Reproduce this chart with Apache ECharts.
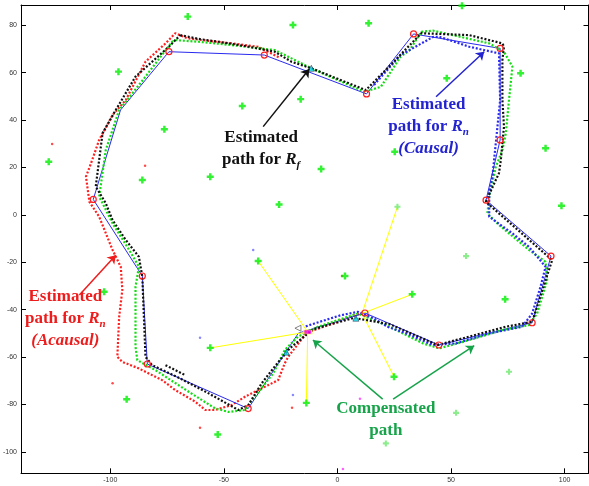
<!DOCTYPE html>
<html>
<head>
<meta charset="utf-8">
<script src="https://cdn.jsdelivr.net/npm/echarts@6/dist/echarts.min.js"></script>
<style>
  html, body { margin: 0; padding: 0; background: #ffffff; }
  #chart { width: 589px; height: 486px; }
</style>
</head>
<body>
<div id="chart"></div>
<script>
// Axis tick values
const xTicks = [-100, -50, 0, 50, 100];
const yTicks = [-100, -80, -60, -40, -20, 0, 20, 40, 60, 80];

// Planned path (solid line) and its waypoints (circles)
const plannedPath = [
  [-32.2, 67.4], [12.8, 51.0], [33.5, 76.3], [71.6, 70.2], [71.6, 31.6], [65.4, 6.2],
  [94.0, -17.4], [85.7, -45.5], [44.6, -54.9], [12.1, -41.4], [-17.2, -49.9],
  [-39.3, -81.7], [-83.7, -62.9], [-85.9, -25.8], [-107.5, 6.5], [-95.5, 44.2],
  [-74.2, 68.8], [-32.2, 67.4]
];
const waypoints = [
  [-32.2, 67.4], [12.8, 51.0], [33.5, 76.3], [71.6, 70.2], [71.6, 31.6], [65.4, 6.2],
  [94.0, -17.4], [85.7, -45.5], [44.6, -54.9], [12.1, -41.4], [-39.3, -81.7],
  [-83.7, -62.9], [-85.9, -25.8], [-107.5, 6.5], [-74.2, 68.8]
];

// Estimated path for R_f
const rfPath = [
  [-69.2, 75.8], [-61.1, 74.2], [-52.4, 73.0], [-40.7, 71.2], [-27.6, 68.8], [-20.3, 64.6],
  [-11.5, 61.8], [12.5, 52.6], [17.6, 57.6], [23.4, 63.2], [36.9, 76.6], [58.0, 75.8],
  [72.6, 72.3], [73.3, 70.9], [72.6, 65.3], [72.6, 48.4], [73.3, 37.2], [71.9, 23.1],
  [71.1, 17.6], [65.3, 5.5], [94.5, -19.1], [85.7, -45.1], [74.1, -47.2], [44.1, -54.9],
  [23.0, -46.1], [7.3, -43.5], [-4.2, -46.5], [-10.8, -48.3], [-21.0, -56.3], [-28.3, -64.8],
  [-33.4, -71.1], [-39.2, -80.2], [-43.6, -82.3], [-56.7, -75.3], [-69.2, -69.0],
  [-81.6, -63.4], [-84.5, -59.9], [-85.5, -35.9], [-85.9, -26.1], [-87.4, -17.7],
  [-93.2, -10.6], [-99.0, -2.2], [-102.0, 4.9], [-106.4, 11.9], [-103.4, 34.4],
  [-97.6, 44.2], [-88.9, 58.3], [-74.2, 70.9], [-69.2, 75.8]
];
const rfBranch = [[-75.7, -63.4], [-67.0, -67.6]];

// Compensated path
const compPath = [
  [-71.4, 73.7], [-61.1, 73.0], [-46.5, 71.6], [-27.6, 69.5], [-11.5, 61.8], [11.8, 51.9],
  [19.1, 54.0], [27.8, 66.7], [31.8, 69.5], [36.9, 77.2], [42.0, 77.7], [66.8, 72.3],
  [73.3, 68.8], [77.0, 62.5], [75.5, 48.4], [74.1, 34.4], [72.6, 27.3], [69.7, 20.3],
  [66.8, 7.6], [66.0, 0.6], [71.1, -4.3], [84.3, -14.8], [91.6, -19.8], [92.3, -27.5],
  [87.9, -41.6], [84.3, -46.5], [72.6, -48.6], [58.0, -52.8], [44.9, -56.3], [37.6, -54.2],
  [28.8, -50.0], [23.0, -47.2], [8.9, -41.6], [-8.6, -47.2], [-17.4, -51.4], [-23.2, -57.0],
  [-28.3, -66.9], [-36.4, -76.7], [-40.7, -82.3], [-48.0, -83.1], [-53.9, -81.6],
  [-65.5, -74.6], [-80.1, -65.5], [-88.1, -61.3], [-88.9, -55.6], [-88.9, -30.3],
  [-87.4, -21.9], [-91.7, -14.8], [-99.0, -3.6], [-103.4, 4.9], [-104.9, 7.6],
  [-102.0, 27.3], [-96.1, 44.2], [-84.5, 58.3], [-72.8, 73.0], [-71.4, 73.7]
];

// Estimated path for R_n, causal
const causalPath = [
  [16.1, 54.8], [27.8, 67.4], [42.0, 75.0], [44.9, 75.1], [58.0, 70.9], [71.1, 68.1],
  [71.6, 48.4], [68.2, 16.1], [66.8, 9.2], [66.8, -0.8], [77.0, -7.8], [84.3, -13.5],
  [91.6, -21.9], [89.4, -30.3], [85.7, -41.6], [81.3, -47.2], [66.8, -50.0], [52.2, -54.2],
  [42.0, -54.9], [30.3, -50.0], [22.0, -47.2], [16.1, -43.7], [8.9, -40.9], [1.6, -42.3],
  [-10.1, -45.8], [-14.5, -47.2]
];

// Estimated path for R_n, acausal
const acausalPath = [
  [-25.9, 66.5], [-34.9, 70.9], [-46.5, 72.3], [-56.7, 73.4], [-66.2, 74.5], [-71.4, 76.6],
  [-75.7, 72.3], [-84.5, 64.6], [-93.2, 48.4], [-99.0, 42.1], [-104.9, 31.6], [-108.5, 21.7],
  [-110.7, 16.1], [-109.2, 5.5], [-104.9, -0.8], [-99.0, -14.8], [-95.4, -21.9],
  [-94.7, -31.7], [-96.1, -43.0], [-96.9, -59.9], [-94.7, -62.0], [-87.4, -64.8],
  [-77.2, -69.7], [-71.4, -73.9], [-62.6, -78.8], [-58.2, -82.3], [-53.9, -82.3],
  [-46.5, -80.2], [-40.7, -76.7], [-33.4, -73.2], [-26.1, -69.7], [-23.2, -62.6],
  [-21.7, -59.9], [-13.7, -49.8], [11.8, -41.0]
];

// Landmarks
const landmarks = [
  [-65.9, 83.6], [-19.6, 80.1], [13.7, 80.8], [54.8, 88.2], [-96.4, 60.4], [-76.2, 36.1],
  [-127.1, 22.4], [-85.9, 14.7], [-41.9, 45.9], [-16.2, 48.8], [-56.0, 16.1], [-7.2, 19.3],
  [25.2, 26.6], [48.1, 57.6], [80.6, 59.7], [91.6, 28.1], [-25.7, 4.4], [3.3, -25.8],
  [-56.0, -56.1], [24.9, -68.3], [-34.9, -19.5], [98.6, 3.8], [73.8, -35.6], [32.9, -33.5],
  [-102.7, -32.4], [-92.8, -77.8], [-52.7, -92.6], [-13.7, -79.3]
];
const faintLandmarks = [
  [26.4, 3.4], [56.6, -17.4], [75.5, -66.2], [52.2, -83.5], [21.3, -96.4]
];

// Observation poses and the landmarks seen from them
const poseA = [-13.1, -49.4];
const poseB = [10.8, -41.6];
const seenFromA = [[-34.9, -19.5], [-56.0, -56.1], [-13.7, -79.3]];
const seenFromB = [[26.4, 3.4], [32.9, -33.5], [24.9, -68.3]];
const robotPoses = [[-11.5, 61.8], [-22.5, -57.9], [8.1, -43.6]];
const ghostPose = [[-17.4, -47.8]];

// Scattered outlier samples
const redOutliers = [[-125.6, 29.9], [-84.7, 20.7], [-99.0, -71.0], [-60.5, -89.8], [-20.0, -81.4], [2.0, -25.8]];
const blueOutliers = [[-60.5, -51.8], [-37.1, -14.8], [-19.6, -76.0]];
const magentaOutliers = [[2.4, -107.2], [9.9, -77.6]];

// Annotation arrows: [start, tip]
const arrowRf = [[-32.7, 37.2], [-12.4, 61.5]];
const arrowCausal = [[43.4, 49.8], [64.6, 68.8]];
const arrowAcausal = [[-113.6, -33.8], [-97.6, -17.0]];
const arrowComp1 = [[19.9, -77.7], [-10.8, -52.8]];
const arrowComp2 = [[24.5, -77.7], [60.2, -55.2]];

const C = {
  black: '#111111', blue: '#2a2af0', red: '#ff1f1f', green: '#12dd12',
  land: '#00ee00', yellow: '#ffff00',
  txtBlue: '#2323cf', txtRed: '#ee1c1c', txtGreen: '#17a34a'
};

const X_MIN = -139.3, X_MAX = 110.5, Y_MIN = -109.0, Y_MAX = 88.5;

function dottedLine(name, data, color, z) {
  return {
    name, type: 'line', data, symbol: 'none', z, silent: true,
    lineStyle: { color, width: 2.2, type: [2, 1.8] }
  };
}
function segmentLines(origin, targets) {
  return targets.map(t => ({ coords: [origin, t] }));
}

const starSymbol = 'path://M2.6,0H5.4V2.6H8V5.4H5.4V8H2.6V5.4H0V2.6H2.6Z';

const axisCommon = {
  type: 'value', splitLine: { show: false },
  axisLine: { show: true, onZero: false, lineStyle: { color: '#000', width: 1 } }
};

const chart = echarts.init(document.getElementById('chart'), null, { renderer: 'canvas' });

const option = {
  animation: false,
  backgroundColor: '#ffffff',
  grid: { left: 18, right: 0.5, top: 5, bottom: 12.7 },
  xAxis: [
    Object.assign({}, axisCommon, {
      position: 'bottom', min: X_MIN, max: X_MAX,
      axisTick: { show: true, inside: true, length: 5, customValues: xTicks, lineStyle: { color: '#000' } },
      axisLabel: { show: true, customValues: xTicks, fontSize: 7, color: '#333', margin: 3, fontFamily: 'Liberation Sans' }
    }),
    Object.assign({}, axisCommon, {
      position: 'top', min: X_MIN, max: X_MAX,
      axisTick: { show: true, inside: true, length: 5, customValues: xTicks, lineStyle: { color: '#000' } },
      axisLabel: { show: false }
    })
  ],
  yAxis: [
    Object.assign({}, axisCommon, {
      position: 'left', min: Y_MIN, max: Y_MAX,
      axisTick: { show: true, inside: true, length: 5, customValues: yTicks, lineStyle: { color: '#000' } },
      axisLabel: { show: true, customValues: yTicks, fontSize: 7, color: '#333', margin: 4, fontFamily: 'Liberation Sans' }
    }),
    Object.assign({}, axisCommon, {
      position: 'right', min: Y_MIN, max: Y_MAX,
      axisTick: { show: true, inside: true, length: 5, customValues: yTicks, lineStyle: { color: '#000' } },
      axisLabel: { show: false }
    })
  ],
  series: [
    dottedLine('acausal', acausalPath, C.red, 2),
    {
      name: 'planned', type: 'line', data: plannedPath, symbol: 'none', z: 3, silent: true,
      lineStyle: { color: C.blue, width: 1 }
    },
    dottedLine('compensated', compPath, C.green, 4),
    dottedLine('causal', causalPath, C.blue, 5),
    dottedLine('rf', rfPath, C.black, 6),
    dottedLine('rfBranch', rfBranch, C.black, 6),
    {
      name: 'sightA', type: 'lines', coordinateSystem: 'cartesian2d', z: 7, silent: true,
      data: segmentLines(poseA, seenFromA), symbol: 'none',
      lineStyle: { color: C.yellow, width: 1, opacity: 1 }
    },
    {
      name: 'sightB', type: 'lines', coordinateSystem: 'cartesian2d', z: 7, silent: true,
      data: segmentLines(poseB, seenFromB), symbol: 'none',
      lineStyle: { color: C.yellow, width: 1, opacity: 1 }
    },
    {
      name: 'waypoints', type: 'scatter', data: waypoints, z: 8, silent: true,
      symbol: 'circle', symbolSize: 6,
      itemStyle: { color: 'rgba(255,255,255,0)', borderColor: C.red, borderWidth: 1.2, opacity: 1 }
    },
    {
      name: 'landmarks', type: 'scatter', data: landmarks, z: 9, silent: true,
      symbol: starSymbol, symbolSize: 7, itemStyle: { color: C.land }
    },
    {
      name: 'faintLandmarks', type: 'scatter', data: faintLandmarks, z: 9, silent: true,
      symbol: starSymbol, symbolSize: 6, itemStyle: { color: '#6fe86f' }
    },
    {
      name: 'poses', type: 'scatter', data: robotPoses, z: 10, silent: true,
      symbol: 'triangle', symbolSize: 6,
      itemStyle: { color: '#00e0f0', borderColor: '#113', borderWidth: 0.6 }
    },
    {
      name: 'ghost', type: 'scatter', data: ghostPose, z: 10, silent: true,
      symbol: 'triangle', symbolSize: 6, symbolRotate: 90,
      itemStyle: { color: 'rgba(255,255,255,0)', borderColor: '#666', borderWidth: 1 }
    },
    {
      name: 'poseA', type: 'scatter', data: [poseA], z: 10, silent: true,
      symbol: 'rect', symbolSize: [8, 4],
      itemStyle: { color: '#ff00ff', borderColor: '#ffff00', borderWidth: 1 }
    },
    {
      name: 'redOut', type: 'scatter', data: redOutliers, z: 4, silent: true,
      symbolSize: 2.5, itemStyle: { color: C.red }
    },
    {
      name: 'blueOut', type: 'scatter', data: blueOutliers, z: 4, silent: true,
      symbolSize: 2.5, itemStyle: { color: '#6a6aff' }
    },
    {
      name: 'magOut', type: 'scatter', data: magentaOutliers, z: 4, silent: true,
      symbolSize: 2.5, itemStyle: { color: '#ff33ff' }
    },
    {
      name: 'arrows', type: 'lines', coordinateSystem: 'cartesian2d', z: 12, silent: true,
      symbol: ['none', 'arrow'], symbolSize: 8,
      data: [
        { coords: arrowRf, lineStyle: { color: C.black } },
        { coords: arrowCausal, lineStyle: { color: C.txtBlue } },
        { coords: arrowAcausal, lineStyle: { color: C.txtRed } },
        { coords: arrowComp1, lineStyle: { color: C.txtGreen } },
        { coords: arrowComp2, lineStyle: { color: C.txtGreen } }
      ],
      lineStyle: { width: 1.5, opacity: 1 }
    }
  ]
};

chart.setOption(option);

// Text blocks anchored in data coordinates
function richStyles(color) {
  const base = { fontFamily: 'Liberation Serif', fontWeight: 'bold', fontSize: 17, fill: color, lineHeight: 22, align: 'center' };
  return {
    b: base,
    i: Object.assign({}, base, { fontStyle: 'italic' }),
    s: Object.assign({}, base, { fontStyle: 'italic', fontSize: 11, lineHeight: 9, verticalAlign: 'bottom' })
  };
}
const annotations = [
  { at: [-33.6, 27.9], color: C.black, text: '{b|Estimated}\n{b|path for }{i|R}{s|f}' },
  { at: [40.1, 37.2], color: C.txtBlue, text: '{b|Estimated}\n{b|path for }{i|R}{s|n}\n{i|(Causal)}' },
  { at: [-119.8, -43.7], color: C.txtRed, text: '{b|Estimated}\n{b|path for }{i|R}{s|n}\n{i|(Acausal)}' },
  { at: [21.3, -86.3], color: C.txtGreen, text: '{b|Compensated}\n{b|path}' }
];
chart.setOption({
  graphic: annotations.map(a => {
    const p = chart.convertToPixel({ gridIndex: 0 }, a.at);
    return {
      type: 'text', x: p[0], y: p[1], z: 20, silent: true,
      style: {
        text: a.text, align: 'center', verticalAlign: 'middle',
        fill: a.color, rich: richStyles(a.color)
      }
    };
  })
});
</script>
</body>
</html>
